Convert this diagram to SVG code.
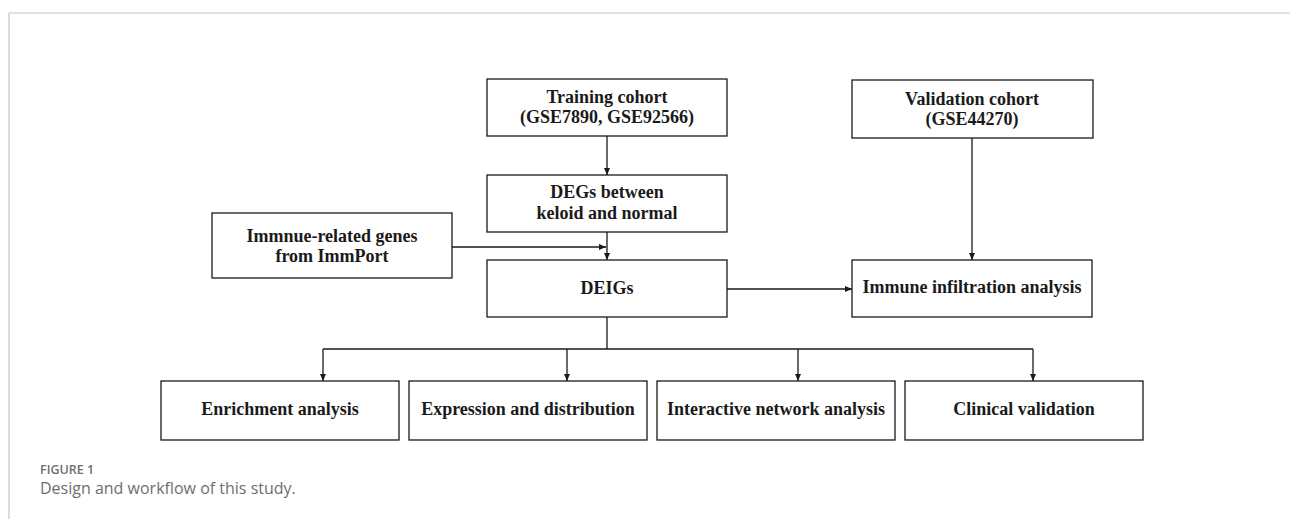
<svg xmlns="http://www.w3.org/2000/svg" width="1290" height="519" viewBox="0 0 1290 519">
<style>
.box{fill:#fff;stroke:#1a1a1a;stroke-width:1.3}
.t{font-family:"Liberation Serif","Times New Roman",serif;font-weight:bold;font-size:18px;fill:#1a1a1a;text-anchor:middle}
.ln{fill:none;stroke:#1a1a1a;stroke-width:1.3}
.cap{font-family:"Open Sans","Noto Sans",sans-serif;fill:#6e6e6e}
</style>
<defs>
<marker id="ah" markerWidth="8" markerHeight="8" refX="7" refY="4" orient="auto" markerUnits="userSpaceOnUse">
<path d="M0,1 L7,4 L0,7 Z" fill="#1a1a1a"/>
</marker>
</defs>
<rect width="1290" height="519" fill="#fff"/>
<g id="frame">
<line x1="9" y1="13" x2="1290" y2="13" stroke="#c4c4c4" stroke-width="1.2"/>
<line x1="9" y1="13" x2="9" y2="519" stroke="#c4c4c4" stroke-width="1.2"/>
</g>
<g id="connectors">
<line class="ln" x1="607" y1="136" x2="607" y2="175" marker-end="url(#ah)"/>
<line class="ln" x1="607" y1="232" x2="607" y2="260" marker-end="url(#ah)"/>
<line class="ln" x1="452" y1="247" x2="606" y2="247" marker-end="url(#ah)"/>
<line class="ln" x1="727" y1="289" x2="852" y2="289" marker-end="url(#ah)"/>
<line class="ln" x1="972" y1="138" x2="972" y2="260" marker-end="url(#ah)"/>
<line class="ln" x1="607" y1="317" x2="607" y2="349"/>
<line class="ln" x1="323" y1="349" x2="1033" y2="349"/>
<line class="ln" x1="323" y1="349" x2="323" y2="381" marker-end="url(#ah)"/>
<line class="ln" x1="567" y1="349" x2="567" y2="381" marker-end="url(#ah)"/>
<line class="ln" x1="798" y1="349" x2="798" y2="381" marker-end="url(#ah)"/>
<line class="ln" x1="1033" y1="349" x2="1033" y2="381" marker-end="url(#ah)"/>
</g>
<g id="training">
<rect class="box" x="487" y="79" width="240" height="57"/>
<text class="t" x="607" y="103">Training cohort</text>
<text class="t" x="607" y="123">(GSE7890, GSE92566)</text>
</g>
<g id="degs">
<rect class="box" x="487" y="175" width="240" height="57"/>
<text class="t" x="607" y="198">DEGs between</text>
<text class="t" x="607" y="219">keloid and normal</text>
</g>
<g id="immune-genes">
<rect class="box" x="212" y="213" width="240" height="65"/>
<text class="t" x="332" y="242">Immnue-related genes</text>
<text class="t" x="332" y="262">from ImmPort</text>
</g>
<g id="deigs">
<rect class="box" x="487" y="260" width="240" height="57"/>
<text class="t" x="607" y="294">DEIGs</text>
</g>
<g id="validation">
<rect class="box" x="852" y="80" width="241" height="58"/>
<text class="t" x="972" y="105">Validation cohort</text>
<text class="t" x="972" y="125">(GSE44270)</text>
</g>
<g id="infiltration">
<rect class="box" x="852" y="260" width="240" height="57"/>
<text class="t" x="972" y="293">Immune infiltration analysis</text>
</g>
<g id="enrichment">
<rect class="box" x="161" y="381" width="238" height="59"/>
<text class="t" x="280" y="415">Enrichment analysis</text>
</g>
<g id="expression">
<rect class="box" x="409" y="381" width="238" height="59"/>
<text class="t" x="528" y="415">Expression and distribution</text>
</g>
<g id="network">
<rect class="box" x="657" y="381" width="238" height="59"/>
<text class="t" x="776" y="415">Interactive network analysis</text>
</g>
<g id="clinical">
<rect class="box" x="905" y="381" width="238" height="59"/>
<text class="t" x="1024" y="415">Clinical validation</text>
</g>
<g id="caption">
<text class="cap" x="40" y="474" font-size="12.5" font-weight="600">FIGURE 1</text>
<text class="cap" x="40" y="494" font-size="16">Design and workflow of this study.</text>
</g>
</svg>
